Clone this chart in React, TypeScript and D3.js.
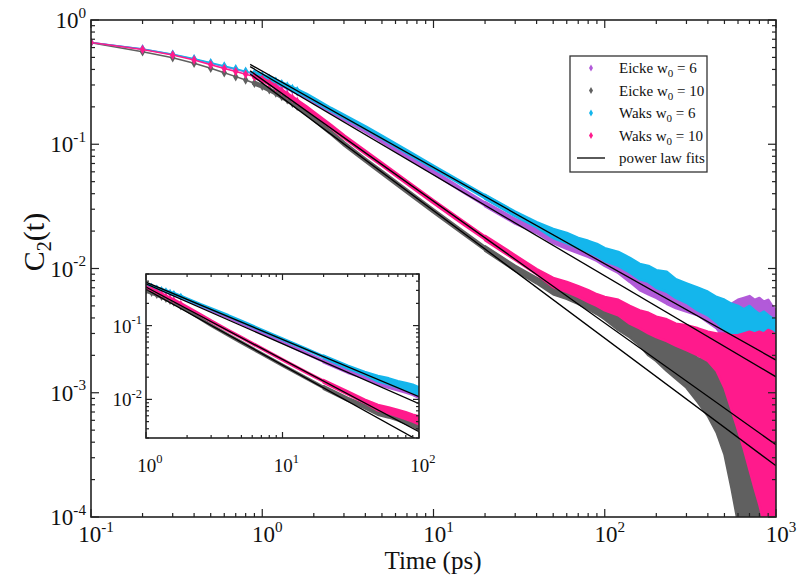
import React from "react";
import * as d3 from "d3";

// ---- data ----
const tMid = [0.1, 0.2, 0.3, 0.4, 0.5, 0.6, 0.7, 0.8, 0.9, 1.0, 1.1, 1.2, 1.3, 1.4, 1.5, 1.6, 1.8, 2.0, 2.5, 3, 4, 5, 7, 10, 15, 20, 30, 40, 50];
const eicke6Mid = [0.66, 0.583, 0.528, 0.484, 0.448, 0.42, 0.4, 0.381, 0.366, 0.35, 0.333, 0.317, 0.302, 0.288, 0.275, 0.264, 0.243, 0.222, 0.186, 0.161, 0.129, 0.107, 0.08, 0.0595, 0.042, 0.033, 0.024, 0.0203, 0.0174];
const eicke10Mid = [0.655, 0.556, 0.497, 0.448, 0.409, 0.376, 0.35, 0.329, 0.31, 0.293, 0.275, 0.258, 0.242, 0.228, 0.214, 0.202, 0.18, 0.16, 0.125, 0.101, 0.0745, 0.0592, 0.0418, 0.029, 0.0193, 0.0145, 0.01, 0.008, 0.0068];
const waks6Mid = [0.66, 0.585, 0.53, 0.488, 0.452, 0.426, 0.405, 0.386, 0.372, 0.355, 0.338, 0.322, 0.307, 0.294, 0.281, 0.27, 0.249, 0.229, 0.192, 0.168, 0.136, 0.114, 0.087, 0.0655, 0.0475, 0.0378, 0.0275, 0.0225, 0.0192];
const waks10Mid = [0.66, 0.58, 0.523, 0.476, 0.437, 0.407, 0.385, 0.366, 0.35, 0.333, 0.31, 0.288, 0.268, 0.25, 0.235, 0.221, 0.197, 0.177, 0.14, 0.115, 0.086, 0.069, 0.0492, 0.0345, 0.0232, 0.0176, 0.0122, 0.0094, 0.0077];

// noisy long-time tail: upper / lower edge of the scatter band
const tTail = [20, 30, 40, 50, 60, 70, 80, 90, 100, 120, 140, 160, 180, 200, 230, 260, 300, 350, 400, 450, 500, 550, 600, 650, 700, 750, 800, 850, 900, 950, 1000];
const eicke6Hi = [0.0343, 0.0251, 0.0213, 0.019, 0.0173, 0.016, 0.0149, 0.0141, 0.0131, 0.0115, 0.0105, 0.0092, 0.0088, 0.0082, 0.0075, 0.007, 0.0065, 0.006, 0.0056, 0.0053, 0.0051, 0.0052, 0.0056, 0.0058, 0.006, 0.0056, 0.0058, 0.0054, 0.0056, 0.005, 0.0046];
const eicke6Lo = [0.0317, 0.023, 0.0193, 0.016, 0.0144, 0.0133, 0.0124, 0.0115, 0.0105, 0.0092, 0.0078, 0.0067, 0.0062, 0.0058, 0.0052, 0.0048, 0.0045, 0.0042, 0.0037, 0.0033, 0.0027, 0.0021, 0.0018, 0.0016, 0.0018, 0.0016, 0.0017, 0.0015, 0.0015, 0.0016, 0.0015];
const eicke10Hi = [0.0151, 0.0105, 0.0084, 0.0074, 0.0067, 0.0062, 0.0058, 0.0054, 0.005, 0.0045, 0.004, 0.0037, 0.0032, 0.003, 0.0027, 0.0024, 0.0022, 0.0019, 0.0018, 0.0016, 0.0014, 0.0012, 0.00096, 0.0008, 0.00066, 0.00055, 0.00048, 0.00042, 0.00038, 0.00035, 0.00032];
const eicke10Lo = [0.0139, 0.0096, 0.0076, 0.0062, 0.0057, 0.0052, 0.0047, 0.0043, 0.0039, 0.0032, 0.0028, 0.0024, 0.002, 0.0018, 0.0015, 0.0013, 0.0011, 0.00084, 0.00065, 0.00048, 0.00032, 0.00017, 0.00009, 0.00009, 0.00009, 0.00009, 0.00009, 0.00009, 0.00009, 0.00009, 0.00009];
const waks6Hi = [0.0392, 0.0287, 0.0236, 0.0208, 0.0193, 0.0176, 0.0167, 0.0158, 0.0146, 0.0136, 0.0122, 0.0109, 0.0105, 0.0097, 0.0094, 0.0082, 0.0076, 0.007, 0.0065, 0.0059, 0.0056, 0.0052, 0.005, 0.0047, 0.005, 0.0046, 0.0043, 0.0045, 0.0042, 0.004, 0.0039];
const waks6Lo = [0.0365, 0.0264, 0.0215, 0.0176, 0.016, 0.0146, 0.0136, 0.0126, 0.0115, 0.0105, 0.0093, 0.0082, 0.0078, 0.007, 0.0065, 0.0058, 0.0053, 0.0046, 0.0042, 0.0037, 0.0032, 0.0022, 0.0013, 0.0015, 0.0016, 0.0014, 0.0013, 0.0015, 0.0012, 0.0013, 0.0015];
const waks10Hi = [0.0183, 0.0128, 0.0099, 0.0084, 0.0078, 0.0072, 0.0067, 0.0062, 0.0059, 0.0056, 0.005, 0.0046, 0.0044, 0.0041, 0.0039, 0.0036, 0.0035, 0.0033, 0.0031, 0.003, 0.003, 0.0029, 0.0029, 0.003, 0.0031, 0.003, 0.0031, 0.003, 0.0032, 0.0031, 0.0029];
const waks10Lo = [0.0169, 0.0117, 0.009, 0.0071, 0.0065, 0.0059, 0.0054, 0.005, 0.0046, 0.0042, 0.0036, 0.0033, 0.003, 0.0028, 0.0026, 0.0024, 0.0022, 0.002, 0.0018, 0.0015, 0.0011, 0.00073, 0.0005, 0.00035, 0.00024, 0.00017, 0.000125, 0.00009, 0.00009, 0.00009, 0.00009];

// power law fits C = A t^-b
const fitA = [0.369, 0.311, 0.387, 0.332];
const fitB = [0.813, 1.027, 0.775, 0.98];

const names = ["Eicke", "Eicke", "Waks", "Waks"];
const w0 = ["6", "10", "6", "10"];
const colors = ["#b25ad9", "#606060", "#14b6ec", "#ff1a8c"];
const MID = [eicke6Mid, eicke10Mid, waks6Mid, waks10Mid];
const HI = [eicke6Hi, eicke10Hi, waks6Hi, waks10Hi];
const LO = [eicke6Lo, eicke10Lo, waks6Lo, waks10Lo];

const FONT = "'Liberation Serif', 'Times New Roman', serif";

type Scale = d3.ScaleLogarithmic<number, number>;

const isMajor = (v: number) => Math.abs(Math.log10(v) - Math.round(Math.log10(v))) < 1e-6;

function Frame({ sx, sy, major, minor }: { sx: Scale; sy: Scale; major: number; minor: number }) {
  const [x0, x1] = sx.range();
  const [y0, y1] = sy.range();
  const ticks: JSX.Element[] = [];
  sx.ticks().forEach((t, k) => {
    const x = sx(t);
    const len = isMajor(t) ? major : minor;
    ticks.push(<line key={"b" + k} x1={x} x2={x} y1={y0} y2={y0 - len} />);
    ticks.push(<line key={"t" + k} x1={x} x2={x} y1={y1} y2={y1 + len} />);
  });
  sy.ticks().forEach((t, k) => {
    const y = sy(t);
    const len = isMajor(t) ? major : minor;
    ticks.push(<line key={"l" + k} x1={x0} x2={x0 + len} y1={y} y2={y} />);
    ticks.push(<line key={"r" + k} x1={x1} x2={x1 - len} y1={y} y2={y} />);
  });
  return (
    <g stroke="#222" strokeWidth={1.2} fill="none">
      {ticks}
      <rect x={x0} y={y1} width={x1 - x0} height={y0 - y1} strokeWidth={1.6} />
    </g>
  );
}

function Data({ sx, sy, clip, tStart, thick, thin, mSize, mMax, fitFrom, fitTo }: any) {
  const line = d3.line<[number, number]>().x(d => sx(d[0])).y(d => sy(d[1]));
  const diamond = d3.symbol(d3.symbolDiamond, mSize)()!;
  return (
    <g clipPath={`url(#${clip})`}>
      {MID.map((vals, i) => {
        const pts = tMid.map((t, k) => [t, vals[k]] as [number, number]).filter(d => d[0] >= tStart);
        const band = d3.area<number>()
          .x((_, k) => sx(tTail[k]))
          .y0((_, k) => sy(Math.max(LO[i][k], 5e-5)))
          .y1((_, k) => sy(HI[i][k]));
        return (
          <g key={i}>
            <path d={line(pts)!} fill="none" stroke={colors[i]} strokeWidth={thin} />
            <path d={line(pts.filter(d => d[0] >= 0.9))!} fill="none" stroke={colors[i]}
              strokeWidth={thick} strokeLinejoin="round" strokeLinecap="round" />
            <path d={band(tTail)!} fill={colors[i]} stroke={colors[i]} strokeWidth={2.5} strokeLinejoin="round" />
            {pts.filter(d => d[0] <= mMax).map((d, k) => (
              <path key={k} d={diamond} transform={`translate(${sx(d[0])},${sy(d[1])})`} fill={colors[i]} />
            ))}
          </g>
        );
      })}
      {fitA.map((a, i) => (
        <line key={"f" + i} x1={sx(fitFrom)} y1={sy(a * Math.pow(fitFrom, -fitB[i]))}
          x2={sx(fitTo)} y2={sy(a * Math.pow(fitTo, -fitB[i]))} stroke="#000" strokeWidth={1.3} />
      ))}
    </g>
  );
}

function Pow({ x, y, exp, size, anchor }: { x: number; y: number; exp: number; size: number; anchor: string }) {
  return (
    <text x={x} y={y} fontSize={size} textAnchor={anchor} fontFamily={FONT} fill="#111">
      10<tspan dy={-size * 0.45} fontSize={size * 0.66}>{exp}</tspan>
    </text>
  );
}

export default function App() {
  const sx = d3.scaleLog().domain([0.1, 1000]).range([91, 776]);
  const sy = d3.scaleLog().domain([1e-4, 1]).range([517, 20]);
  const ix = d3.scaleLog().domain([1, 100]).range([146, 419]);
  const iy = d3.scaleLog().domain([0.003, 0.5]).range([438, 274]);

  const xMajors = sx.ticks().filter(isMajor);
  const yMajors = sy.ticks().filter(isMajor);
  const ixMajors = ix.ticks().filter(isMajor);
  const iyMajors = iy.ticks().filter(isMajor);

  const legX = 570, legY = 56;
  const rowY = [68, 90.5, 113, 135.5, 158];

  return (
    <svg width={800} height={575} style={{ position: "absolute", left: 0, top: 0, background: "#fff" }}>
      <defs>
        <clipPath id="mainClip"><rect x={91} y={20} width={685} height={497} /></clipPath>
        <clipPath id="insetClip"><rect x={146} y={274} width={273} height={164} /></clipPath>
      </defs>
      <rect width={800} height={575} fill="#fff" />

      <Data sx={sx} sy={sy} clip="mainClip" tStart={0.1} thick={5} thin={1.5} mSize={26} mMax={1.6} fitFrom={0.85} fitTo={1000} />
      <Frame sx={sx} sy={sy} major={8} minor={4} />

      {xMajors.map(t => (
        <Pow key={t} x={sx(t) + 5} y={542} exp={Math.round(Math.log10(t))} size={23} anchor="middle" />
      ))}
      {yMajors.map(t => (
        <Pow key={t} x={86} y={sy(t) + 8} exp={Math.round(Math.log10(t))} size={23} anchor="end" />
      ))}
      <text x={433} y={569} fontSize={25} textAnchor="middle" fontFamily={FONT} fill="#111">Time (ps)</text>
      <text transform="translate(44,242) rotate(-90)" fontSize={30} textAnchor="middle" fontFamily={FONT} fill="#111">
        C<tspan dy={7} fontSize={20}>2</tspan><tspan dy={-7}>(t)</tspan>
      </text>

      {/* inset */}
      <rect x={146} y={274} width={273} height={164} fill="#fff" />
      <Data sx={ix} sy={iy} clip="insetClip" tStart={1} thick={3.5} thin={1.2} mSize={16} mMax={1.8} fitFrom={1} fitTo={100} />
      <Frame sx={ix} sy={iy} major={6} minor={3} />
      {ixMajors.map(t => (
        <Pow key={t} x={ix(t) + 4} y={472} exp={Math.round(Math.log10(t))} size={19} anchor="middle" />
      ))}
      {iyMajors.map(t => (
        <Pow key={t} x={142} y={iy(t) + 7} exp={Math.round(Math.log10(t))} size={19} anchor="end" />
      ))}

      {/* legend */}
      <rect x={legX} y={legY} width={137} height={116} fill="#fff" stroke="#333" strokeWidth={1.3} />
      {colors.map((c, i) => (
        <g key={i}>
          <path d={d3.symbol(d3.symbolDiamond, 14)()!} transform={`translate(591,${rowY[i]})`} fill={c} />
          <text x={619} y={rowY[i] + 5} fontSize={15} fontFamily={FONT} fill="#111">
            {names[i]} w<tspan dy={4} fontSize={11}>0</tspan><tspan dy={-4}> = {w0[i]}</tspan>
          </text>
        </g>
      ))}
      <line x1={577} x2={605} y1={rowY[4]} y2={rowY[4]} stroke="#000" strokeWidth={1.3} />
      <text x={619} y={rowY[4] + 5} fontSize={15} fontFamily={FONT} fill="#111">power law fits</text>
    </svg>
  );
}
